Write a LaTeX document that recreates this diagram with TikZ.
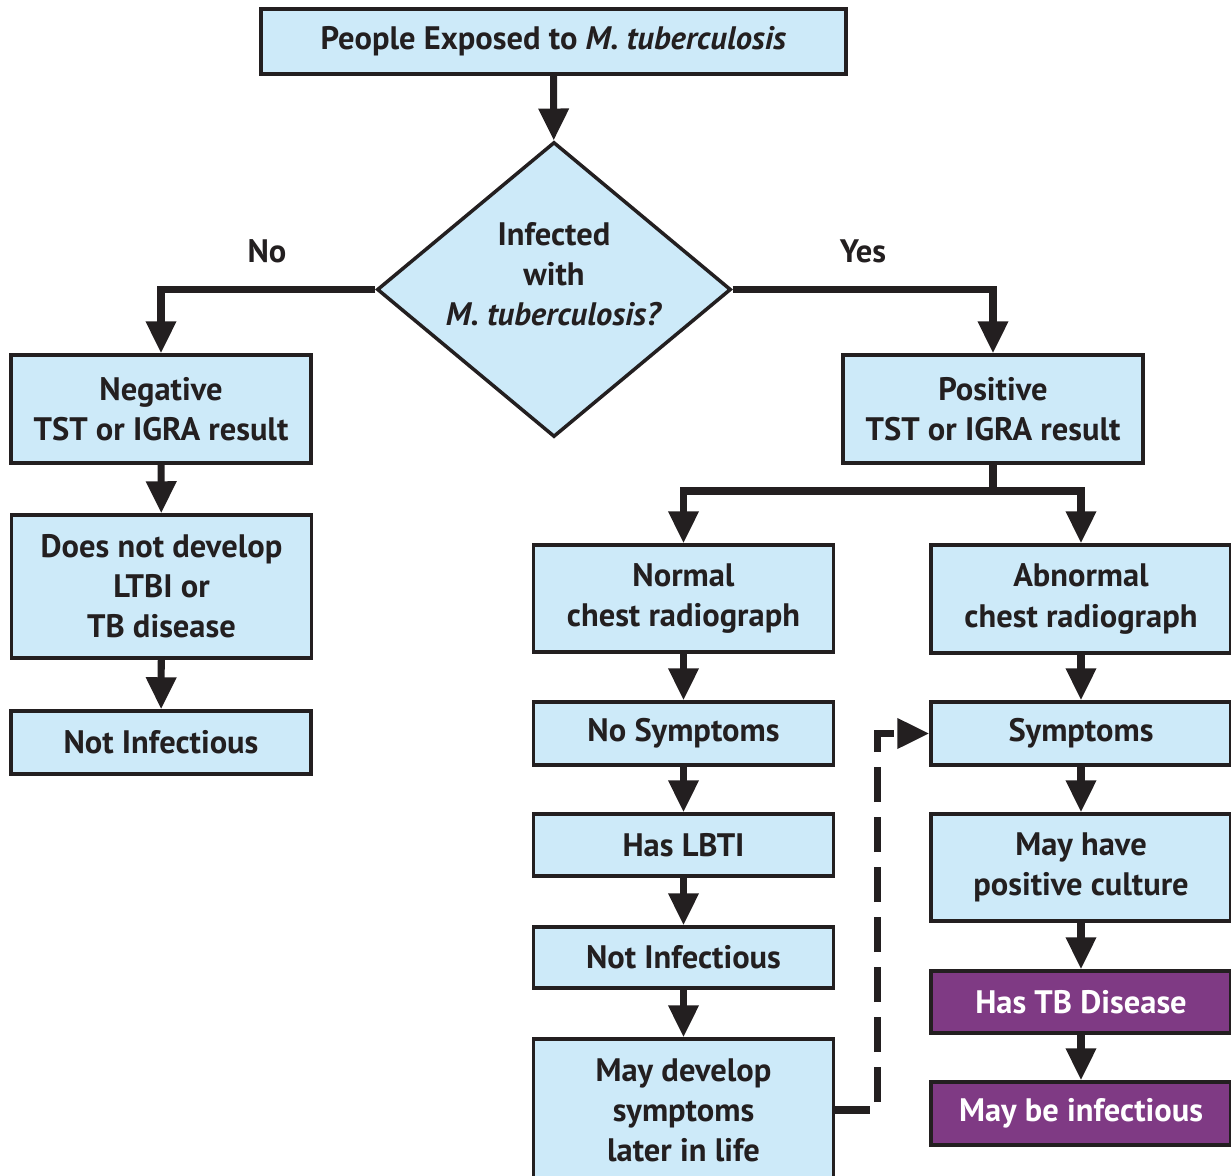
\documentclass[tikz,border=0pt]{standalone}
\usepackage{fontspec}
\setmainfont{PT Sans}
\usetikzlibrary{shapes.geometric,arrows.meta,positioning}
\definecolor{boxblue}{HTML}{CDEAF9}
\definecolor{tbpurple}{HTML}{7F3A84}
\definecolor{inkgray}{HTML}{231F20}
\tikzset
{
    box/.style = {rectangle, draw=inkgray, line width=2pt, fill=boxblue, align=center, minimum width=6cm, inner sep=0pt, text=inkgray, font=\bfseries\fontsize{18.5}{22.8}\selectfont},
    tbbox/.style = {box, fill=tbpurple, text=white},
    decision/.style = {diamond, draw=inkgray, line width=2pt, fill=boxblue, aspect=1.2, minimum width=7.08cm, minimum height=5.9cm, inner sep=0pt},
    answer/.style = {text=inkgray, align=center, font=\bfseries\fontsize{18.5}{22.8}\selectfont},
    link/.style = {draw=inkgray, line width=4pt},
    flow/.style = {link, -{Triangle[length=0.64cm, width=0.58cm]}},
    later/.style = {flow, dash pattern=on 0.7cm off 0.3cm}
}
\begin{document}
\begin{tikzpicture}[x=0.02cm, y=-0.02cm]
	\useasboundingbox (0,0) rectangle (1231,1176);
	\node[box, minimum width=11.7cm, minimum height=1.3cm] (exposed) at (553.5,41.5) {People Exposed to \textit{M. tuberculosis}};
	\node[decision] (infected) at (554,289.5) {};
	\node[answer] (infectedtext) at (554,274) {Infected\\with\\\textit{M. tuberculosis?}};
	\node[answer] (no) at (267,251) {No};
	\node[answer] (yes) at (863,251) {Yes};
	\node[box, minimum height=2.16cm] (negative) at (161,409) {Negative\\TST or IGRA result};
	\node[box, minimum height=2.86cm] (nodevelop) at (161.5,586.5) {Does not develop\\LTBI or\\TB disease};
	\node[box, minimum height=1.26cm] (notinfleft) at (161,742.5) {Not Infectious};
	\node[box, minimum height=2.16cm] (positive) at (993,409) {Positive\\TST or IGRA result};
	\coordinate (split) at (993,491);
	\node[box, minimum height=2.14cm] (normal) at (683.5,598.5) {Normal\\chest radiograph};
	\node[box, minimum height=1.26cm] (nosymptoms) at (683.5,733.5) {No Symptoms};
	\node[box, minimum height=1.24cm] (hasltbi) at (683.5,845) {Has LBTI};
	\node[box, minimum height=1.22cm] (notinfright) at (683.5,957.5) {Not Infectious};
	\node[box, minimum height=2.84cm] (maydevelop) at (683.5,1110) {May develop\\symptoms\\later in life};
	\node[box, minimum height=2.16cm] (abnormal) at (1081,599) {Abnormal\\chest radiograph};
	\node[box, minimum height=1.26cm] (symptoms) at (1081,733.5) {Symptoms};
	\node[box, minimum height=2.14cm] (culture) at (1081,867.5) {May have\\positive culture};
	\node[tbbox, minimum height=1.24cm] (hastb) at (1081,1002) {Has TB Disease};
	\node[tbbox, minimum height=1.26cm] (infectious) at (1081,1113.5) {May be infectious};
	\draw[flow] (exposed) -- (infected);
	\draw[flow] (infected.west) -| (negative);
	\draw[flow] (infected.east) -| (positive);
	\draw[flow] (negative) -- (nodevelop);
	\draw[flow] (nodevelop) -- (notinfleft);
	\draw[link] (positive) -- (split);
	\draw[flow] (split) -| (normal);
	\draw[flow] (split) -| (abnormal);
	\draw[flow] (normal) -- (nosymptoms);
	\draw[flow] (nosymptoms) -- (hasltbi);
	\draw[flow] (hasltbi) -- (notinfright);
	\draw[flow] (notinfright) -- (maydevelop);
	\draw[flow] (abnormal) -- (symptoms);
	\draw[flow] (symptoms) -- (culture);
	\draw[flow] (culture) -- (hastb);
	\draw[flow] (hastb) -- (infectious);
	\draw[later] (maydevelop.east) -- ++(42,0) |- (symptoms.west);
\end{tikzpicture}
\end{document}
